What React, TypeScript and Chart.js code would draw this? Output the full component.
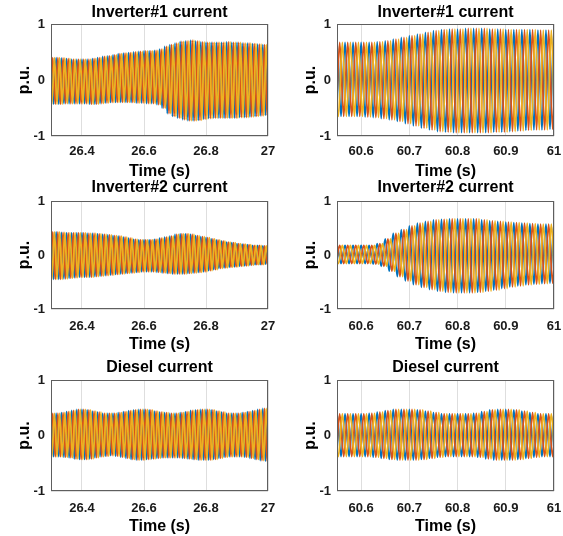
import React, { useEffect, useRef } from "react";
import { Chart, registerables } from "chart.js";

Chart.register(...registerables);

// ---------------- data ----------------
const FREQ_HZ = 60;
const LEFT_START = 26.3;
const LEFT_END = 27;
const RIGHT_START = 60.55;
const RIGHT_END = 61;

const LEFT_TICKS = [26.4, 26.6, 26.8, 27];
const LEFT_TICK_LABELS = ["26.4", "26.6", "26.8", "27"];
const RIGHT_TICKS = [60.6, 60.7, 60.8, 60.9, 61];
const RIGHT_TICK_LABELS = ["60.6", "60.7", "60.8", "60.9", "61"];
const Y_TICKS = [-1, 0, 1];
const Y_TICK_LABELS = ["-1", "0", "1"];

const TITLES = ["Inverter#1 current", "Inverter#2 current", "Diesel current"];
const X_LABEL = "Time (s)";
const Y_LABEL = "p.u.";

const PHASE_NAMES = ["Phase a", "Phase b", "Phase c"];
const PHASE_COLORS = ["#0072BD", "#D95319", "#EDB120"];
const PHASE_SHIFT = [0, 1 / 3, 2 / 3]; // fraction of a cycle

// per-cycle positive / negative peak values (p.u.)
// left column: 42 cycles from 26.3 s; right column: 27 cycles from 60.55 s
const INV1_L_UP = [
  0.40, 0.40, 0.39, 0.38, 0.37, 0.37, 0.37, 0.37, 0.38, 0.40, 0.42, 0.43,
  0.45, 0.47, 0.48, 0.49, 0.50, 0.51, 0.52, 0.52, 0.53, 0.55, 0.60, 0.63,
  0.66, 0.69, 0.70, 0.71, 0.70, 0.68, 0.67, 0.67, 0.67, 0.67, 0.68, 0.67,
  0.67, 0.66, 0.66, 0.65, 0.64, 0.63,
];
const INV1_L_LO = [
  -0.43, -0.43, -0.42, -0.42, -0.42, -0.42, -0.42, -0.43, -0.43, -0.42, -0.41, -0.40,
  -0.40, -0.40, -0.40, -0.40, -0.41, -0.41, -0.42, -0.42, -0.44, -0.50, -0.60, -0.65,
  -0.68, -0.71, -0.73, -0.73, -0.72, -0.70, -0.69, -0.68, -0.68, -0.68, -0.68, -0.68,
  -0.67, -0.67, -0.66, -0.65, -0.64, -0.63,
];
const INV1_R_UP = [
  0.67, 0.67, 0.67, 0.67, 0.67, 0.68, 0.70, 0.73, 0.76, 0.79, 0.82, 0.85,
  0.88, 0.90, 0.91, 0.91, 0.92, 0.92, 0.92, 0.91, 0.91, 0.90, 0.90, 0.90,
  0.90, 0.89, 0.89,
];
const INV1_R_LO = [
  -0.65, -0.65, -0.65, -0.66, -0.67, -0.69, -0.71, -0.74, -0.78, -0.82, -0.86, -0.89,
  -0.92, -0.93, -0.94, -0.94, -0.94, -0.94, -0.94, -0.93, -0.93, -0.92, -0.91, -0.90,
  -0.89, -0.89, -0.88,
];
const INV2_L_UP = [
  0.43, 0.43, 0.42, 0.41, 0.41, 0.41, 0.41, 0.40, 0.40, 0.39, 0.38, 0.37,
  0.36, 0.35, 0.33, 0.31, 0.29, 0.28, 0.28, 0.28, 0.29, 0.31, 0.33, 0.35,
  0.38, 0.39, 0.39, 0.38, 0.36, 0.34, 0.32, 0.30, 0.28, 0.26, 0.24, 0.23,
  0.21, 0.20, 0.19, 0.18, 0.18, 0.17,
];
const INV2_L_LO = [
  -0.45, -0.45, -0.44, -0.43, -0.42, -0.41, -0.41, -0.41, -0.40, -0.39, -0.38, -0.37,
  -0.36, -0.35, -0.34, -0.33, -0.32, -0.31, -0.31, -0.31, -0.32, -0.33, -0.34, -0.35,
  -0.35, -0.35, -0.34, -0.33, -0.32, -0.31, -0.29, -0.27, -0.25, -0.24, -0.23, -0.22,
  -0.21, -0.20, -0.19, -0.18, -0.18, -0.17,
];
const INV2_R_UP = [
  0.18, 0.18, 0.18, 0.18, 0.18, 0.21, 0.30, 0.40, 0.47, 0.54, 0.59, 0.62,
  0.65, 0.66, 0.67, 0.67, 0.67, 0.67, 0.65, 0.63, 0.62, 0.61, 0.60, 0.59,
  0.58, 0.57, 0.57,
];
const INV2_R_LO = [
  -0.16, -0.16, -0.16, -0.16, -0.17, -0.21, -0.30, -0.40, -0.48, -0.55, -0.60, -0.64,
  -0.67, -0.69, -0.70, -0.70, -0.70, -0.69, -0.67, -0.65, -0.62, -0.59, -0.57, -0.55,
  -0.54, -0.53, -0.52,
];
const DIESEL_L_UP = [
  0.40, 0.40, 0.41, 0.43, 0.45, 0.47, 0.47, 0.46, 0.44, 0.42, 0.40, 0.40,
  0.40, 0.41, 0.43, 0.45, 0.46, 0.47, 0.47, 0.46, 0.44, 0.42, 0.41, 0.40,
  0.40, 0.41, 0.43, 0.45, 0.46, 0.47, 0.47, 0.46, 0.44, 0.42, 0.40, 0.40,
  0.40, 0.41, 0.43, 0.45, 0.47, 0.49,
];
const DIESEL_L_LO = [
  -0.38, -0.38, -0.39, -0.40, -0.42, -0.43, -0.43, -0.42, -0.40, -0.38, -0.37, -0.36,
  -0.37, -0.39, -0.41, -0.43, -0.44, -0.44, -0.43, -0.42, -0.41, -0.40, -0.40, -0.40,
  -0.40, -0.41, -0.42, -0.43, -0.44, -0.44, -0.44, -0.43, -0.41, -0.39, -0.38, -0.38,
  -0.38, -0.39, -0.41, -0.43, -0.45, -0.46,
];
const DIESEL_R_UP = [
  0.39, 0.39, 0.39, 0.39, 0.40, 0.42, 0.45, 0.47, 0.47, 0.47, 0.46, 0.44,
  0.41, 0.39, 0.39, 0.39, 0.39, 0.40, 0.43, 0.46, 0.47, 0.47, 0.46, 0.44,
  0.41, 0.39, 0.39,
];
const DIESEL_R_LO = [
  -0.38, -0.38, -0.38, -0.38, -0.39, -0.41, -0.43, -0.44, -0.44, -0.44, -0.43, -0.41,
  -0.39, -0.38, -0.38, -0.38, -0.38, -0.39, -0.42, -0.44, -0.44, -0.44, -0.43, -0.41,
  -0.39, -0.38, -0.38,
];

// ---------------- layout ----------------
const FONT_FAMILY = '"Liberation Sans", Arial, Helvetica, sans-serif';

type Panel = {
  title: string;
  up: number[];
  lo: number[];
  left: boolean;
  row: number;
};

const PANELS: Panel[] = [
  { title: TITLES[0], up: INV1_L_UP, lo: INV1_L_LO, left: true, row: 0 },
  { title: TITLES[0], up: INV1_R_UP, lo: INV1_R_LO, left: false, row: 0 },
  { title: TITLES[1], up: INV2_L_UP, lo: INV2_L_LO, left: true, row: 1 },
  { title: TITLES[1], up: INV2_R_UP, lo: INV2_R_LO, left: false, row: 1 },
  { title: TITLES[2], up: DIESEL_L_UP, lo: DIESEL_L_LO, left: true, row: 2 },
  { title: TITLES[2], up: DIESEL_R_UP, lo: DIESEL_R_LO, left: false, row: 2 },
];

// row geometry: canvas top, title bottom padding, plot height, x tick padding
const ROWS = [
  { top: 3, titlePad: 1.8, plotH: 112, tickPad: 8 },
  { top: 178, titlePad: 3.8, plotH: 108, tickPad: 10 },
  { top: 358, titlePad: 2.8, plotH: 111, tickPad: 10 },
];
const COLS = {
  left: { x: 11, padRight: 12 },
  right: { x: 297, padRight: 9 },
};
const Y_AXIS_W = 40;
const X_AXIS_H = 45;
const PLOT_W = 217;

function makeWave(t0: number, up: number[], lo: number[], shift: number) {
  const pts: { x: number; y: number }[] = [];
  const n = up.length;
  for (let k = -1; k <= n; k++) {
    const i = Math.min(Math.max(k, 0), n - 1);
    const tp = t0 + (k + shift) / FREQ_HZ;
    pts.push({ x: tp, y: up[i] });
    pts.push({ x: tp + 0.5 / FREQ_HZ, y: lo[i] });
  }
  return pts;
}

const boxPlugin = {
  id: "axisBox",
  afterDatasetsDraw(chart: any) {
    const { ctx, chartArea: a } = chart;
    ctx.save();
    ctx.strokeStyle = "#5e5e5e";
    ctx.lineWidth = 1;
    ctx.strokeRect(
      Math.round(a.left) + 0.5,
      Math.round(a.top) + 0.5,
      Math.round(a.right - a.left) - 1,
      Math.round(a.bottom - a.top) - 1
    );
    ctx.restore();
  },
};

function labelFor(ticks: number[], labels: string[], v: number) {
  const i = ticks.findIndex((t) => Math.abs(t - v) < 1e-6);
  return i >= 0 ? labels[i] : "";
}

function SubPlot({ panel }: { panel: Panel }) {
  const ref = useRef<HTMLCanvasElement | null>(null);
  const row = ROWS[panel.row];
  const col = panel.left ? COLS.left : COLS.right;
  const width = Y_AXIS_W + PLOT_W + col.padRight;
  const height = 19.2 + row.titlePad + row.plotH + X_AXIS_H;

  useEffect(() => {
    if (!ref.current) return;
    const t0 = panel.left ? LEFT_START : RIGHT_START;
    const t1 = panel.left ? LEFT_END : RIGHT_END;
    const xt = panel.left ? LEFT_TICKS : RIGHT_TICKS;
    const xl = panel.left ? LEFT_TICK_LABELS : RIGHT_TICK_LABELS;
    const datasets = PHASE_NAMES.map((name, p) => ({
      label: name,
      data: makeWave(t0, panel.up, panel.lo, PHASE_SHIFT[p]),
      borderColor: PHASE_COLORS[p],
      borderWidth: 1.8,
      pointRadius: 0,
      fill: false,
      cubicInterpolationMode: "monotone" as const,
      order: 2 - p,
    }));
    const tickFont = { family: FONT_FAMILY, size: 13, weight: "bold" as const };
    const labelFont = { family: FONT_FAMILY, size: 16, weight: "bold" as const };
    const chart = new Chart(ref.current, {
      type: "line",
      data: { datasets },
      plugins: [boxPlugin],
      options: {
        responsive: false,
        animation: false,
        events: [],
        layout: { padding: { left: 0, right: col.padRight, top: 0, bottom: 0 } },
        plugins: {
          legend: { display: false },
          tooltip: { enabled: false },
          title: {
            display: true,
            text: panel.title,
            color: "#000",
            font: labelFont,
            fullSize: false,
            padding: { top: 0, bottom: row.titlePad },
          },
        },
        scales: {
          x: {
            type: "linear",
            min: t0,
            max: t1,
            afterBuildTicks: (axis: any) => {
              axis.ticks = xt.map((v) => ({ value: v }));
            },
            afterFit: (axis: any) => {
              axis.height = X_AXIS_H;
              axis.paddingLeft = 0;
              axis.paddingRight = 0;
            },
            ticks: {
              color: "#1a1a1a",
              font: tickFont,
              padding: row.tickPad,
              maxRotation: 0,
              autoSkip: false,
              callback: (v: any) => labelFor(xt, xl, Number(v)),
            },
            grid: { color: "#dedede", lineWidth: 1, drawTicks: false, tickLength: 0 },
            border: { display: false },
            title: {
              display: true,
              text: X_LABEL,
              color: "#000",
              font: labelFont,
              padding: 0,
            },
          },
          y: {
            type: "linear",
            min: -1,
            max: 1,
            afterBuildTicks: (axis: any) => {
              axis.ticks = Y_TICKS.map((v) => ({ value: v }));
            },
            afterFit: (axis: any) => {
              axis.width = Y_AXIS_W;
              axis.paddingTop = 0;
              axis.paddingBottom = 0;
            },
            ticks: {
              color: "#1a1a1a",
              font: tickFont,
              padding: 6,
              callback: (v: any) => labelFor(Y_TICKS, Y_TICK_LABELS, Number(v)),
            },
            grid: { color: "#dedede", lineWidth: 1, drawTicks: false, tickLength: 0 },
            border: { display: false },
            title: {
              display: true,
              text: Y_LABEL,
              color: "#000",
              font: labelFont,
              padding: { top: 4.4, bottom: 0 },
            },
          },
        },
      },
    });
    return () => chart.destroy();
  }, []);

  return (
    <canvas
      ref={ref}
      width={width}
      height={height}
      style={{
        position: "absolute",
        left: col.x,
        top: row.top,
        width,
        height,
      }}
    />
  );
}

export default function App() {
  return (
    <div
      style={{
        position: "fixed",
        left: 0,
        top: 0,
        width: 563,
        height: 536,
        background: "#fff",
        overflow: "hidden",
      }}
    >
      {PANELS.map((p, i) => (
        <SubPlot key={i} panel={p} />
      ))}
    </div>
  );
}
